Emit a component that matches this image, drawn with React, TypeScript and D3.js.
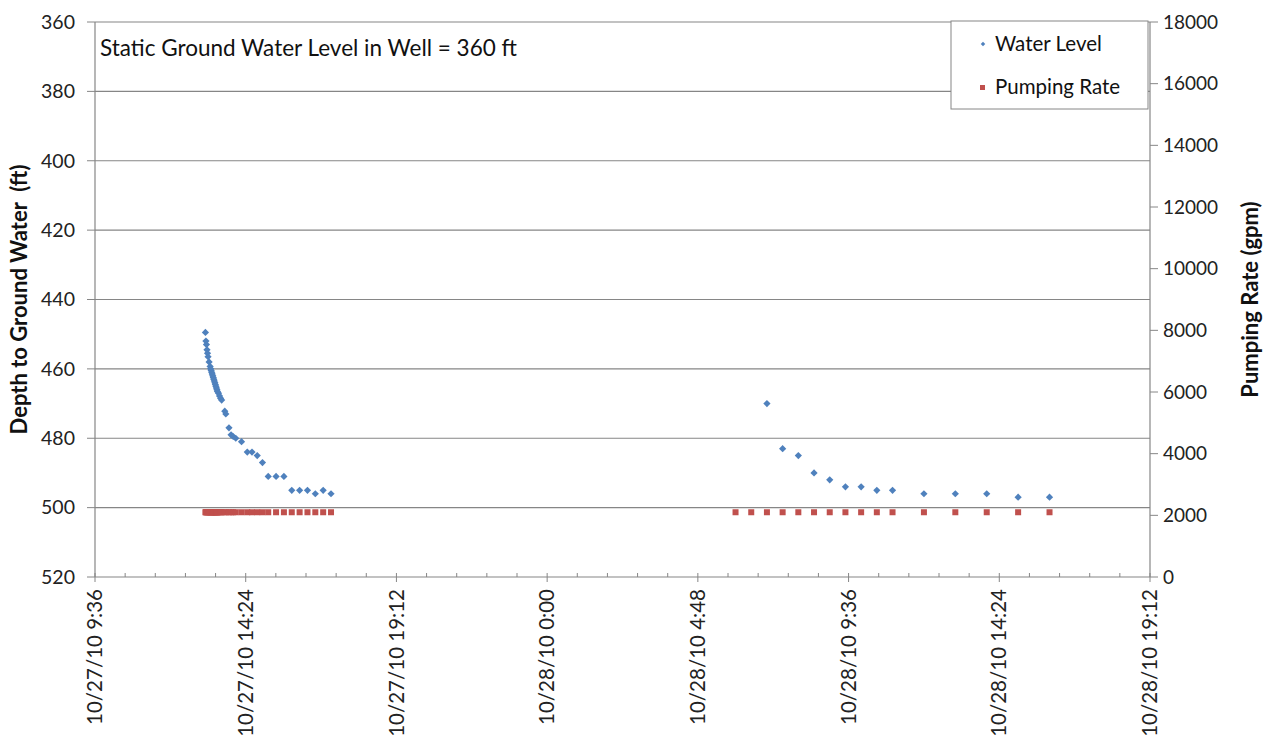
import React, { useEffect, useRef } from "react";
import * as d3 from "d3";

// day 1 readings (10/27/10)
const day1Times = [
  "13:07", "13:08", "13:09", "13:10", "13:11", "13:12", "13:14", "13:16", "13:17", "13:18",
  "13:19", "13:20", "13:21", "13:22", "13:23", "13:24", "13:25", "13:26", "13:27", "13:28",
  "13:29", "13:30", "13:32", "13:34", "13:36", "13:38", "13:44", "13:46", "13:52", "13:56",
  "14:00", "14:05", "14:16", "14:27", "14:36", "14:46", "14:56", "15:07", "15:22", "15:37",
  "15:52", "16:07", "16:22", "16:37", "16:52", "17:07",
];
const day1Depth = [
  449.5, 452, 453, 454.5, 455.5, 456.5, 458, 459.3, 460, 460.5,
  461, 461.5, 462, 462.5, 463, 463.5, 464, 464.5, 465, 465.5,
  466, 466.5, 467, 467.8, 468.5, 469, 472.2, 473, 477, 479,
  479.5, 480, 481, 484, 484, 485, 487, 491, 491, 491,
  495, 495, 495, 496, 495, 496,
];
const day1Rate = day1Times.map(() => 2100);

// day 2 readings (10/28/10)
const day2RateTimes = [
  "6:00", "6:30", "7:00", "7:30", "8:00", "8:30", "9:00", "9:30", "10:00", "10:30",
  "11:00", "12:00", "13:00", "14:00", "15:00", "16:00",
];
const day2Rate = [2100, 2100, 2100, 2100, 2100, 2100, 2100, 2100, 2100, 2100, 2100, 2100, 2100, 2100, 2100, 2100];
const day2LevelTimes = [
  "7:00", "7:30", "8:00", "8:30", "9:00", "9:30", "10:00", "10:30", "11:00", "12:00",
  "13:00", "14:00", "15:00", "16:00",
];
const day2Depth = [470, 483, 485, 490, 492, 494, 494, 495, 495, 496, 496, 496, 497, 497];

const xTickLabels = [
  "10/27/10 9:36", "10/27/10 14:24", "10/27/10 19:12", "10/28/10 0:00",
  "10/28/10 4:48", "10/28/10 9:36", "10/28/10 14:24", "10/28/10 19:12",
];
const depthTicks = [360, 380, 400, 420, 440, 460, 480, 500, 520];
const rateTicks = [0, 2000, 4000, 6000, 8000, 10000, 12000, 14000, 16000, 18000];

const FONT = "Lato, 'Open Sans', sans-serif";

export default function App() {
  const ref = useRef<SVGSVGElement>(null);

  useEffect(() => {
    const svg = d3.select(ref.current);
    svg.selectAll("*").remove();
    const parse = d3.timeParse("%m/%d/%y %H:%M");

    const left = 95, right = 1150, top = 22, bottom = 577;

    const x = d3
      .scaleTime()
      .domain([parse(xTickLabels[0])!, parse(xTickLabels[xTickLabels.length - 1])!])
      .range([left, right]);
    const yDepth = d3.scaleLinear().domain([360, 520]).range([top, bottom]);
    const yRate = d3.scaleLinear().domain([0, 18000]).range([bottom, top]);

    const level = day1Times
      .map((t, i) => ({ t: parse("10/27/10 " + t)!, v: day1Depth[i] }))
      .concat(day2LevelTimes.map((t, i) => ({ t: parse("10/28/10 " + t)!, v: day2Depth[i] })));
    const rate = day1Times
      .map((t, i) => ({ t: parse("10/27/10 " + t)!, v: day1Rate[i] }))
      .concat(day2RateTimes.map((t, i) => ({ t: parse("10/28/10 " + t)!, v: day2Rate[i] })));

    const axisColor = "#868686";

    // gridlines
    svg
      .append("g")
      .selectAll("line")
      .data(depthTicks.slice(0, -1))
      .join("line")
      .attr("x1", left)
      .attr("x2", right)
      .attr("y1", (d) => yDepth(d))
      .attr("y2", (d) => yDepth(d))
      .attr("stroke", axisColor)
      .attr("stroke-width", 1.2);

    // left axis
    const gl = svg.append("g");
    gl.append("line").attr("x1", left).attr("x2", left).attr("y1", top).attr("y2", bottom).attr("stroke", axisColor).attr("stroke-width", 1.2);
    gl.selectAll(".tk")
      .data(depthTicks)
      .join("line")
      .attr("x1", left - 8)
      .attr("x2", left)
      .attr("y1", (d) => yDepth(d))
      .attr("y2", (d) => yDepth(d))
      .attr("stroke", axisColor);
    gl.selectAll("text")
      .data(depthTicks)
      .join("text")
      .attr("x", left - 20)
      .attr("y", (d) => yDepth(d))
      .attr("dy", "0.35em")
      .attr("text-anchor", "end")
      .attr("font-family", FONT)
      .attr("font-size", 19.5)
      .attr("fill", "#222")
      .text((d) => d);

    // right axis
    const gr = svg.append("g");
    gr.append("line").attr("x1", right).attr("x2", right).attr("y1", top).attr("y2", bottom).attr("stroke", axisColor).attr("stroke-width", 1.2);
    gr.selectAll(".tk")
      .data(rateTicks)
      .join("line")
      .attr("x1", right)
      .attr("x2", right + 8)
      .attr("y1", (d) => yRate(d))
      .attr("y2", (d) => yRate(d))
      .attr("stroke", axisColor);
    gr.selectAll("text")
      .data(rateTicks)
      .join("text")
      .attr("x", right + 13)
      .attr("y", (d) => yRate(d))
      .attr("dy", "0.35em")
      .attr("font-family", FONT)
      .attr("font-size", 19)
      .attr("fill", "#222")
      .text((d) => d);

    // bottom axis
    const gx = svg.append("g");
    gx.append("line").attr("x1", left).attr("x2", right).attr("y1", bottom).attr("y2", bottom).attr("stroke", axisColor).attr("stroke-width", 1.2);
    const majors = xTickLabels.map((s) => parse(s)!);
    const minors: Date[] = [];
    for (let i = 0; i < majors.length - 1; i++) {
      const step = (majors[i + 1].getTime() - majors[i].getTime()) / 5;
      for (let k = 1; k < 5; k++) minors.push(new Date(majors[i].getTime() + step * k));
    }
    gx.selectAll(".minor")
      .data(minors)
      .join("line")
      .attr("class", "minor")
      .attr("x1", (d) => x(d))
      .attr("x2", (d) => x(d))
      .attr("y1", bottom - 4)
      .attr("y2", bottom)
      .attr("stroke", axisColor);
    gx.selectAll(".major")
      .data(majors)
      .join("line")
      .attr("class", "major")
      .attr("x1", (d) => x(d))
      .attr("x2", (d) => x(d))
      .attr("y1", bottom - 4)
      .attr("y2", bottom + 5)
      .attr("stroke", axisColor);
    gx.selectAll("text")
      .data(xTickLabels)
      .join("text")
      .attr("transform", (d) => `translate(${x(parse(d)!)},${bottom + 12}) rotate(-90)`)
      .attr("dy", "0.35em")
      .attr("text-anchor", "end")
      .attr("font-family", FONT)
      .attr("font-size", 20.5)
      .attr("fill", "#222")
      .text((d) => d);

    // axis titles
    svg
      .append("text")
      .attr("transform", `translate(19,${(top + bottom) / 2}) rotate(-90)`)
      .attr("dy", "0.35em")
      .attr("text-anchor", "middle")
      .attr("font-family", FONT)
      .attr("font-weight", "bold")
      .attr("font-size", 22)
      .attr("fill", "#111")
      .style("white-space", "pre")
      .text("Depth to Ground Water  (ft)");
    svg
      .append("text")
      .attr("transform", `translate(1250,${(top + bottom) / 2}) rotate(-90)`)
      .attr("dy", "0.35em")
      .attr("text-anchor", "middle")
      .attr("font-family", FONT)
      .attr("font-weight", "bold")
      .attr("font-size", 22)
      .attr("fill", "#111")
      .text("Pumping Rate (gpm)");

    // annotation
    svg
      .append("text")
      .attr("x", 100)
      .attr("y", 56)
      .attr("font-family", FONT)
      .attr("font-size", 22.5)
      .attr("fill", "#111")
      .text("Static Ground Water Level in Well = 360 ft");

    // series
    const blue = "#4F81BD";
    const red = "#C0504D";
    const diamond = d3.symbol().type(d3.symbolSquare).size(26);
    svg
      .append("g")
      .selectAll("rect")
      .data(rate)
      .join("rect")
      .attr("x", (d) => x(d.t) - 3)
      .attr("y", (d) => yRate(d.v) - 3)
      .attr("width", 6)
      .attr("height", 6)
      .attr("fill", red);
    svg
      .append("g")
      .selectAll("path")
      .data(level)
      .join("path")
      .attr("d", diamond)
      .attr("transform", (d) => `translate(${x(d.t)},${yDepth(d.v)}) rotate(45)`)
      .attr("fill", blue);

    // legend
    const lg = svg.append("g");
    lg.append("rect").attr("x", 951).attr("y", 21).attr("width", 197).attr("height", 88).attr("fill", "#fff").attr("stroke", axisColor);
    lg.append("path").attr("d", d3.symbol().type(d3.symbolSquare).size(10)).attr("transform", "translate(983,44) rotate(45)").attr("fill", blue);
    lg.append("rect").attr("x", 980).attr("y", 85).attr("width", 5).attr("height", 5).attr("fill", red);
    lg.selectAll("text")
      .data(["Water Level", "Pumping Rate"])
      .join("text")
      .attr("x", 995)
      .attr("y", (d, i) => 44 + i * 43)
      .attr("dy", "0.35em")
      .attr("font-family", FONT)
      .attr("font-size", 20.5)
      .attr("fill", "#111")
      .text((d) => d);
  }, []);

  return (
    <svg
      ref={ref}
      width={1264}
      height={740}
      style={{ position: "absolute", left: 0, top: 0, background: "#fff" }}
    />
  );
}
